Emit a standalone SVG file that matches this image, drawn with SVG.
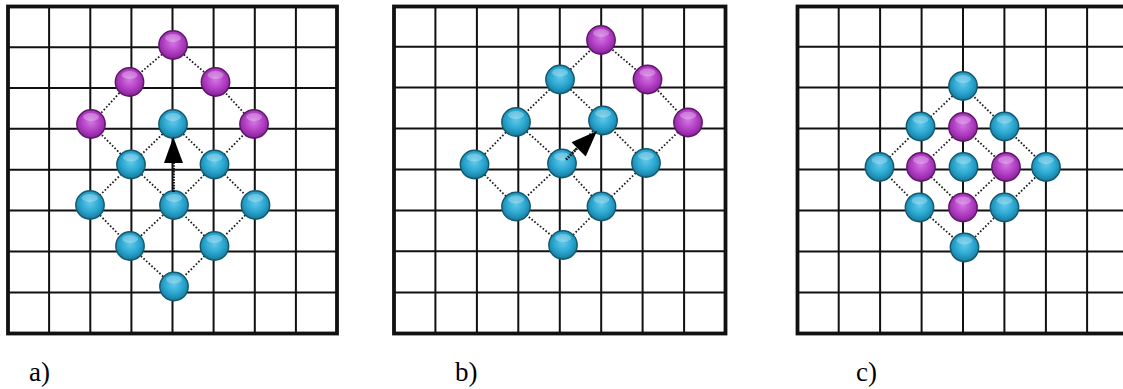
<svg xmlns="http://www.w3.org/2000/svg" width="1123" height="389" viewBox="0 0 1123 389">
<style>
.grid{fill:none;stroke:#111;stroke-width:2}
.frame{fill:none;stroke:#111;stroke-width:3.8}
.link{stroke:#1a1a1a;stroke-width:1.8;stroke-dasharray:1.6 2;fill:none}
.shaft{stroke:#111;stroke-width:2.8;stroke-dasharray:1.6 1.2;fill:none}
.head{fill:#000}
.cy{fill:url(#gc);stroke:#12586f;stroke-width:1.4}
.mg{fill:url(#gm);stroke:#5e156a;stroke-width:1.4}
.hl{fill:#fff;opacity:0.28}
.lbl{font-family:"Liberation Serif","Times New Roman",serif;font-size:27px;fill:#000}
</style>
<defs>
<radialGradient id="gc" cx="0.5" cy="0.42" r="0.6">
<stop offset="0" stop-color="#62c9ea"/>
<stop offset="0.55" stop-color="#2aa7d1"/>
<stop offset="0.85" stop-color="#1d86aa"/>
<stop offset="1" stop-color="#12607a"/>
</radialGradient>
<radialGradient id="gm" cx="0.5" cy="0.42" r="0.6">
<stop offset="0" stop-color="#d477e4"/>
<stop offset="0.55" stop-color="#b23fc4"/>
<stop offset="0.85" stop-color="#922aa3"/>
<stop offset="1" stop-color="#631672"/>
</radialGradient>
<g id="c-cy"><circle class="cy" r="14.2"/><ellipse class="hl" cx="0" cy="-7" rx="8" ry="4"/></g>
<g id="c-mg"><circle class="mg" r="14.2"/><ellipse class="hl" cx="0" cy="-7" rx="8" ry="4"/></g>
</defs>
<rect width="1123" height="389" fill="#fff"/>

<g id="grids">
<g id="grid-a">
<path class="grid" d="M49.1 6.5V333.5M90.3 6.5V333.5M131.4 6.5V333.5M172.5 6.5V333.5M213.6 6.5V333.5M254.8 6.5V333.5M295.9 6.5V333.5M8 47.2H337M8 87.9H337M8 128.8H337M8 169.7H337M8 210.6H337M8 251.5H337M8 292.5H337"/>
<rect class="frame" x="8" y="6.5" width="329" height="327"/>
</g>
<g id="grid-b">
<path class="grid" d="M435.4 6.5V333.5M476.9 6.5V333.5M518.3 6.5V333.5M559.8 6.5V333.5M601.2 6.5V333.5M642.6 6.5V333.5M684.1 6.5V333.5M394 46.7H725.5M394 87.4H725.5M394 128.5H725.5M394 169.4H725.5M394 210.4H725.5M394 251.2H725.5M394 292.6H725.5"/>
<rect class="frame" x="394" y="6.5" width="331.5" height="327"/>
</g>
<g id="grid-c">
<path class="grid" d="M838.7 6.5V333.5M880.1 6.5V333.5M921.6 6.5V333.5M963 6.5V333.5M1004.4 6.5V333.5M1045.9 6.5V333.5M1087.1 6.5V333.5M797.5 46.7H1130M797.5 87.4H1130M797.5 128.5H1130M797.5 169.4H1130M797.5 210.4H1130M797.5 251.5H1130M797.5 292.6H1130"/>
<rect class="frame" x="797.5" y="6.5" width="331" height="327"/>
</g>
</g>

<g id="connectors">
<path class="link" d="M173 124L131 164.5L90 205M214.5 164.5L174 205L130 246M255.5 205L214.5 246L174 286.5M173 124L214.5 164.5L255.5 205M131 164.5L174 205L214.5 246M90 205L130 246L174 286.5M173 45L129.5 82L91 124L131 164.5M173 45L215.5 82L254 124L214.5 164.5"/>
<path class="link" d="M560 79.5L516 122L474.5 164.5M603 120.5L562 163.5L516 206.5M646 163L601.5 206.5L563 245M560 79.5L603 120.5L646 163M516 122L562 163.5L601.5 206.5M474.5 164.5L516 206.5L563 245M560 79.5L601 40L647.5 79.5L688 122.5L646 163"/>
<path class="link" d="M963 86L920.5 126.5L879.5 167L919.5 207.5L964.5 247.5L1004.5 207.5L1046 167L1004.5 126.5Z M963 127L921 167L963 207.5L1006 167Z"/>
</g>

<g id="nodes-a">
<use id="a-m1" href="#c-mg" x="173" y="45"/>
<use id="a-m2" href="#c-mg" x="129.5" y="82"/>
<use id="a-m3" href="#c-mg" x="215.5" y="82"/>
<use id="a-m4" href="#c-mg" x="91" y="124"/>
<use id="a-m5" href="#c-mg" x="254" y="124"/>
<use id="a-c1" href="#c-cy" x="173" y="124"/>
<use id="a-c2" href="#c-cy" x="131" y="164.5"/>
<use id="a-c3" href="#c-cy" x="214.5" y="164.5"/>
<use id="a-c4" href="#c-cy" x="90" y="205"/>
<use id="a-c5" href="#c-cy" x="174" y="205"/>
<use id="a-c6" href="#c-cy" x="255.5" y="205"/>
<use id="a-c7" href="#c-cy" x="130" y="246"/>
<use id="a-c8" href="#c-cy" x="214.5" y="246"/>
<use id="a-c9" href="#c-cy" x="174" y="286.5"/>
</g>
<g id="nodes-b">
<use id="b-m1" href="#c-mg" x="601" y="40"/>
<use id="b-m2" href="#c-mg" x="647.5" y="79.5"/>
<use id="b-m3" href="#c-mg" x="688" y="122.5"/>
<use id="b-c1" href="#c-cy" x="560" y="79.5"/>
<use id="b-c2" href="#c-cy" x="516" y="122"/>
<use id="b-c3" href="#c-cy" x="603" y="120.5"/>
<use id="b-c4" href="#c-cy" x="474.5" y="164.5"/>
<use id="b-c5" href="#c-cy" x="562" y="163.5"/>
<use id="b-c6" href="#c-cy" x="646" y="163"/>
<use id="b-c7" href="#c-cy" x="516" y="206.5"/>
<use id="b-c8" href="#c-cy" x="601.5" y="206.5"/>
<use id="b-c9" href="#c-cy" x="563" y="245"/>
</g>
<g id="nodes-c">
<use id="c-c1" href="#c-cy" x="963" y="86"/>
<use id="c-c2" href="#c-cy" x="920.5" y="126.5"/>
<use id="c-c3" href="#c-cy" x="1004.5" y="126.5"/>
<use id="c-c4" href="#c-cy" x="879.5" y="167"/>
<use id="c-c5" href="#c-cy" x="963.5" y="167"/>
<use id="c-c6" href="#c-cy" x="1046" y="167"/>
<use id="c-c7" href="#c-cy" x="919.5" y="207.5"/>
<use id="c-c8" href="#c-cy" x="1004.5" y="207.5"/>
<use id="c-c9" href="#c-cy" x="964.5" y="247.5"/>
<use id="c-m1" href="#c-mg" x="963" y="127"/>
<use id="c-m2" href="#c-mg" x="921" y="167"/>
<use id="c-m3" href="#c-mg" x="1006" y="167"/>
<use id="c-m4" href="#c-mg" x="963" y="207.5"/>
</g>

<g id="arrows">
<path class="shaft" d="M173.5 192V163"/>
<polygon class="head" points="173.3,137 164,163 183,163"/>
<path class="shaft" d="M566 159.5L579 146.5"/>
<polygon class="head" points="597,131 585.7,156.5 571.5,142.3"/>
</g>

<g id="labels">
<text class="lbl" x="29" y="381">a)</text>
<text class="lbl" x="455" y="381">b)</text>
<text class="lbl" x="856" y="381">c)</text>
</g>
</svg>
